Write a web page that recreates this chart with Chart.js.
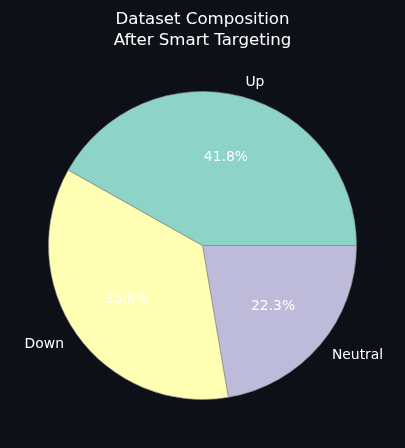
<!DOCTYPE html>
<html>
<head>
<meta charset="utf-8">
<script src="https://cdn.jsdelivr.net/npm/chart.js@4"></script>
<style>
html,body{margin:0;padding:0;background:#0d1117;}
#wrap{width:405px;height:448px;position:relative;}
</style>
</head>
<body>
<div id="wrap"><canvas id="c" width="405" height="448"></canvas></div>
<script>
const categories = ["Up", "Down", "Neutral"];
const percentages = [41.8, 35.8, 22.3];
const colors = ["#8dd3c7", "#ffffb3", "#bebada"];
const titleLines = ["Dataset Composition", "After Smart Targeting"];

// Chart.js draws clockwise; matplotlib counterclockwise from 3 o'clock -> reverse order
const order = [2, 1, 0];
const dataVals = order.map(i => percentages[i]);
const dataLabels = order.map(i => categories[i]);
const dataColors = order.map(i => colors[i]);

const labelPlugin = {
  id: 'mplLabels',
  afterDraw(chart) {
    const ctx = chart.ctx;
    ctx.save();
    // title
    ctx.fillStyle = '#ffffff';
    ctx.font = '16.6px "DejaVu Sans"';
    ctx.textAlign = 'center';
    ctx.textBaseline = 'alphabetic';
    ctx.fillText(titleLines[0], 202.5, 24);
    ctx.fillText(titleLines[1], 202.5, 45);
    const meta = chart.getDatasetMeta(0);
    meta.data.forEach((arc, i) => {
      const p = arc.getProps(['x', 'y', 'startAngle', 'endAngle', 'outerRadius'], true);
      const mid = (p.startAngle + p.endAngle) / 2;
      const c = Math.cos(mid), s = Math.sin(mid);
      // category label at 1.1 r
      const lx = p.x + 1.1 * p.outerRadius * c;
      const ly = p.y + 1.1 * p.outerRadius * s + 1;
      ctx.font = '13.9px "DejaVu Sans"';
      ctx.textAlign = c >= 0 ? 'left' : 'right';
      ctx.textBaseline = 'middle';
      ctx.fillStyle = '#ffffff';
      ctx.fillText(dataLabels[i], lx, ly);
      // pct at 0.6 r
      const px = p.x + 0.6 * p.outerRadius * c;
      const py = p.y + 0.6 * p.outerRadius * s + 1;
      ctx.textAlign = 'center';
      ctx.fillText(dataVals[i].toFixed(1) + '%', px, py);
    });
    ctx.restore();
  }
};

new Chart(document.getElementById('c'), {
  type: 'pie',
  data: {
    labels: dataLabels,
    datasets: [{
      data: dataVals,
      backgroundColor: dataColors,
      borderColor: '#8a8a8a',
      borderWidth: 0.6,
      radius: 154
    }]
  },
  options: {
    responsive: false,
    animation: false,
    rotation: 90,
    layout: { padding: { left: 0, right: 0, top: 88, bottom: 45 } },
    plugins: {
      legend: { display: false },
      title: { display: false },
      tooltip: { enabled: false }
    }
  },
  plugins: [labelPlugin]
});
</script>
</body>
</html>
